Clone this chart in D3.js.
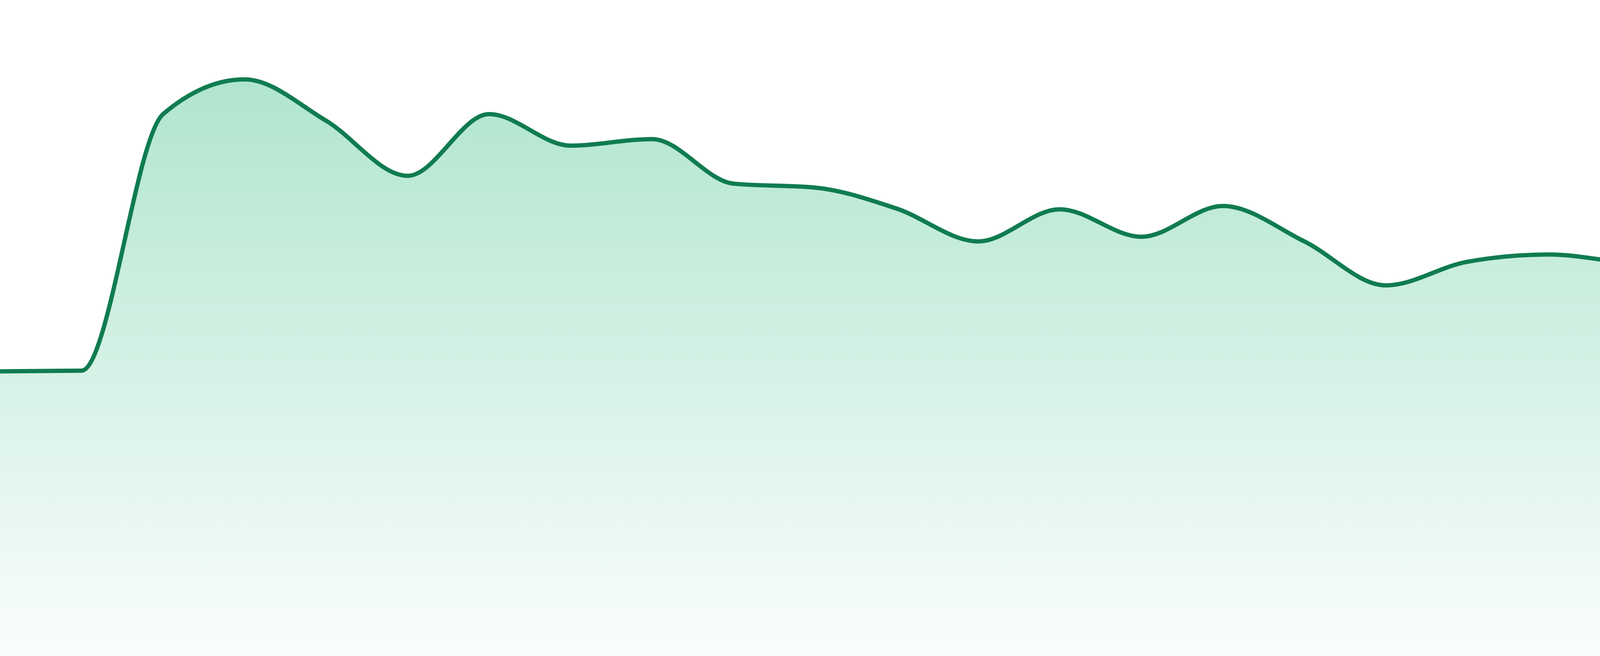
<!DOCTYPE html>
<html>
<head>
<meta charset="utf-8">
<script src="https://cdn.jsdelivr.net/npm/d3@7"></script>
<style>
  body { margin: 0; background: #fff; }
</style>
</head>
<body>
<div id="viz"></div>
<script>
const width = 4800;
const height = 1680;
const lineColor = '#107c50';
const fillColor = '#17b372';

// one value per step
const steps = d3.range(24);
const values = [43.4, 43.5, 82.6, 87.9, 81.6, 73.2, 82.6, 77.8, 78.8, 72.0, 71.4, 68.2,
                63.2, 68.1, 63.9, 68.6, 63.2, 56.5, 60.1, 61.2, 59.9, 59.2, 58.8, 54.3];

const data = steps.map((s, i) => ({step: s, value: values[i]}));

const xScale = d3.scaleLinear()
  .domain([0, steps.length - 1])
  .range([0, width]);

const yScale = d3.scaleLinear()
  .domain([0, 100])
  .range([height, 0]);

const svg = d3.select('#viz')
  .append('svg')
    .attr('width', width)
    .attr('height', height)
    .attr('viewBox', [0, 0, width, height]);

const grad = svg.append('defs')
  .append('linearGradient')
    .attr('id', 'areaFill')
    .attr('x1', 0).attr('y1', 0)
    .attr('x2', 0).attr('y2', 1);
grad.append('stop').attr('offset', '0%').attr('stop-color', fillColor).attr('stop-opacity', 0.34);
grad.append('stop').attr('offset', '100%').attr('stop-color', fillColor).attr('stop-opacity', 0.02);

const area = d3.area()
  .x(d => xScale(d.step))
  .y0(yScale(0))
  .y1(d => yScale(d.value))
  .curve(d3.curveMonotoneX);

const line = d3.line()
  .x(d => xScale(d.step))
  .y(d => yScale(d.value))
  .curve(d3.curveMonotoneX);

svg.append('path')
  .attr('d', area(data))
  .attr('fill', 'url(#areaFill)')
  .attr('stroke', 'none');

svg.append('path')
  .attr('d', line(data))
  .attr('fill', 'none')
  .attr('stroke', lineColor)
  .attr('stroke-width', 11)
  .attr('stroke-linejoin', 'round');
</script>
</body>
</html>
